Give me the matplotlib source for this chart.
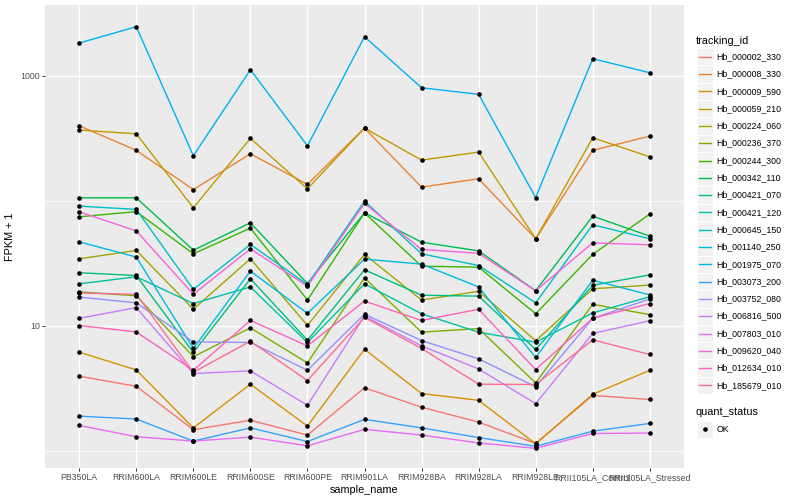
import matplotlib
matplotlib.use("Agg")
import matplotlib.pyplot as plt
from matplotlib.patches import Rectangle
from matplotlib.lines import Line2D
from matplotlib.ticker import NullLocator, FixedLocator

plt.rcParams['font.family'] = ['Liberation Sans', 'DejaVu Sans']

samples = ["PB350LA", "RRIM600LA", "RRIM600LE", "RRIM600SE", "RRIM600PE", "RRIM901LA",
           "RRIM928BA", "RRIM928LA", "RRIM928LE", "RRII105LA_Control", "RRII105LA_Stressed"]

tracking_ids = ["Hb_000002_330", "Hb_000008_330", "Hb_000009_590", "Hb_000059_210",
                "Hb_000224_060", "Hb_000236_370", "Hb_000244_300", "Hb_000342_110",
                "Hb_000421_070", "Hb_000421_120", "Hb_000645_150", "Hb_001140_250",
                "Hb_001975_070", "Hb_003073_200", "Hb_003752_080", "Hb_006816_500",
                "Hb_007803_010", "Hb_009620_040", "Hb_012634_010", "Hb_185679_010"]

colors = ["#F8766D", "#EA8331", "#D89000", "#C09B00", "#A3A500", "#7CAE00", "#39B600",
          "#00BB4E", "#00BF7D", "#00C1A3", "#00BFC4", "#00BAE0", "#00B0F6", "#35A2FF",
          "#9590FF", "#C77CFF", "#E76BF3", "#FA62DB", "#FF62BC", "#FF6C91"]

# FPKM + 1 values per gene, one per sample
hb_000002_330 = [3.96, 3.29, 1.48, 1.76, 1.34, 3.20, 2.24, 1.70, 1.15, 2.78, 2.58]
hb_000008_330 = [398.1, 253.1, 122.9, 237.7, 135.3, 381.6, 128.7, 150.0, 49.7, 253.1, 329.3]
hb_000009_590 = [6.16, 4.45, 1.53, 3.42, 1.58, 6.51, 2.88, 2.54, 1.14, 2.84, 4.41]
hb_000059_210 = [367.8, 343.6, 87.9, 315.6, 124.7, 381.6, 211.6, 245.2, 49.7, 319.2, 224.9]
hb_000224_060 = [34.4, 40.1, 13.6, 34.4, 10.1, 37.3, 16.1, 18.9, 7.61, 19.8, 21.2]
hb_000236_370 = [18.7, 17.4, 5.67, 9.64, 5.06, 24.2, 8.91, 9.53, 3.50, 14.9, 12.3]
hb_000244_300 = [74.5, 82.0, 37.7, 60.5, 16.1, 80.2, 30.0, 29.5, 12.5, 37.3, 78.3]
hb_000342_110 = [105.7, 105.7, 40.3, 66.7, 21.8, 80.2, 46.7, 39.8, 19.1, 75.4, 52.2]
hb_000421_070 = [26.6, 25.3, 6.13, 23.8, 7.68, 28.1, 17.6, 17.3, 6.48, 21.1, 25.6]
hb_000421_120 = [21.7, 24.7, 15.1, 20.5, 7.37, 21.7, 12.5, 8.91, 7.41, 12.7, 17.1]
hb_000645_150 = [90.7, 85.4, 19.6, 44.8, 21.4, 99.5, 37.7, 30.4, 15.3, 64.3, 49.8]
hb_001140_250 = [47.0, 35.5, 6.60, 27.4, 12.6, 34.2, 31.2, 20.5, 5.59, 23.2, 17.7]
hb_001975_070 = [1826, 2466, 229.1, 1117, 275.4, 2051, 801.7, 710.0, 106.1, 1368, 1057]
hb_003073_200 = [1.90, 1.80, 1.20, 1.53, 1.19, 1.79, 1.53, 1.28, 1.09, 1.44, 1.66]
hb_003752_080 = [17.0, 15.3, 7.45, 7.37, 4.42, 12.4, 7.64, 5.45, 3.26, 11.5, 16.4]
hb_006816_500 = [11.5, 14.0, 4.16, 4.37, 2.32, 12.0, 6.92, 4.53, 2.39, 8.70, 11.0]
hb_007803_010 = [1.60, 1.30, 1.20, 1.29, 1.10, 1.49, 1.34, 1.16, 1.05, 1.38, 1.39]
hb_009620_040 = [81.7, 57.5, 17.9, 41.3, 20.8, 95.3, 40.9, 38.0, 19.1, 46.1, 44.5]
hb_012634_010 = [10.07, 8.95, 4.42, 11.05, 6.92, 15.8, 11.05, 13.6, 4.48, 11.5, 15.1]
hb_185679_010 = [18.3, 17.9, 4.26, 7.54, 3.66, 11.7, 6.60, 3.42, 3.40, 7.73, 5.91]

series = [hb_000002_330, hb_000008_330, hb_000009_590, hb_000059_210, hb_000224_060,
          hb_000236_370, hb_000244_300, hb_000342_110, hb_000421_070, hb_000421_120,
          hb_000645_150, hb_001140_250, hb_001975_070, hb_003073_200, hb_003752_080,
          hb_006816_500, hb_007803_010, hb_009620_040, hb_012634_010, hb_185679_010]

y_ticks = [10, 1000]
y_tick_labels = ["10", "1000"]
y_minor = [1, 100]

W, H = 800, 500
fig = plt.figure(figsize=(8, 5), dpi=100)
fig.patch.set_facecolor("white")
L, R, T, B = 45, 684, 5, 468.3
ax = fig.add_axes([L / W, 1 - B / H, (R - L) / W, (B - T) / H])
ax.set_facecolor("#EBEBEB")
for s in ax.spines.values():
    s.set_visible(False)

xs = list(range(len(samples)))
ax.set_yscale("log")
ax.set_xlim(-0.6, len(samples) - 1 + 0.6)
ax.set_ylim(0.727, 3678)

for v in y_minor:
    ax.axhline(v, color="white", lw=0.55, zorder=0)
for v in y_ticks:
    ax.axhline(v, color="white", lw=1.05, zorder=0)
for x in xs:
    ax.axvline(x, color="white", lw=1.05, zorder=0)

for vals, c in zip(series, colors):
    ax.plot(xs, vals, color=c, lw=1.0, zorder=2, solid_capstyle="butt")
for vals in series:
    ax.scatter(xs, vals, s=11, color="black", zorder=3, linewidths=0)

ax.yaxis.set_major_locator(FixedLocator(y_ticks))
ax.yaxis.set_minor_locator(NullLocator())
ax.set_yticklabels(y_tick_labels)
ax.set_xticks(xs)
ax.set_xticklabels(samples)
ax.tick_params(axis="both", which="major", length=2.2, width=0.7, color="#333333",
               labelsize=6.3, labelcolor="#4D4D4D", pad=1.5)

ax.set_xlabel("sample_name", fontsize=7.8, color="black", labelpad=2)
ax.set_ylabel("FPKM + 1", fontsize=7.8, color="black", labelpad=4)

# legend drawn in pixel coordinates
lax = fig.add_axes([0, 0, 1, 1], facecolor="none")
lax.set_xlim(0, W)
lax.set_ylim(H, 0)
lax.axis("off")

lax.text(696, 40.5, "tracking_id", fontsize=7.8, ha="left", va="center", color="black")
y0, dy = 56.7, 17.3
for i, (name, c) in enumerate(zip(tracking_ids, colors)):
    yc = y0 + i * dy
    lax.add_patch(Rectangle((696.5, yc - dy / 2), 16.5, dy, facecolor="#F2F2F2",
                            edgecolor="white", lw=0.8))
    lax.add_line(Line2D([698.5, 711], [yc, yc], color=c, lw=1.0))
    lax.text(716.5, yc, name, fontsize=6.3, ha="left", va="center", color="black")

lax.text(696, 412.3, "quant_status", fontsize=7.8, ha="left", va="center", color="black")
lax.add_patch(Rectangle((696.5, 429.3 - dy / 2), 16.5, dy, facecolor="#F2F2F2",
                        edgecolor="white", lw=0.8))
lax.scatter([704.7], [429.3], s=11, color="black", linewidths=0)
lax.text(716.5, 429.3, "OK", fontsize=6.3, ha="left", va="center", color="black")

fig.savefig("out.png", dpi=100)
